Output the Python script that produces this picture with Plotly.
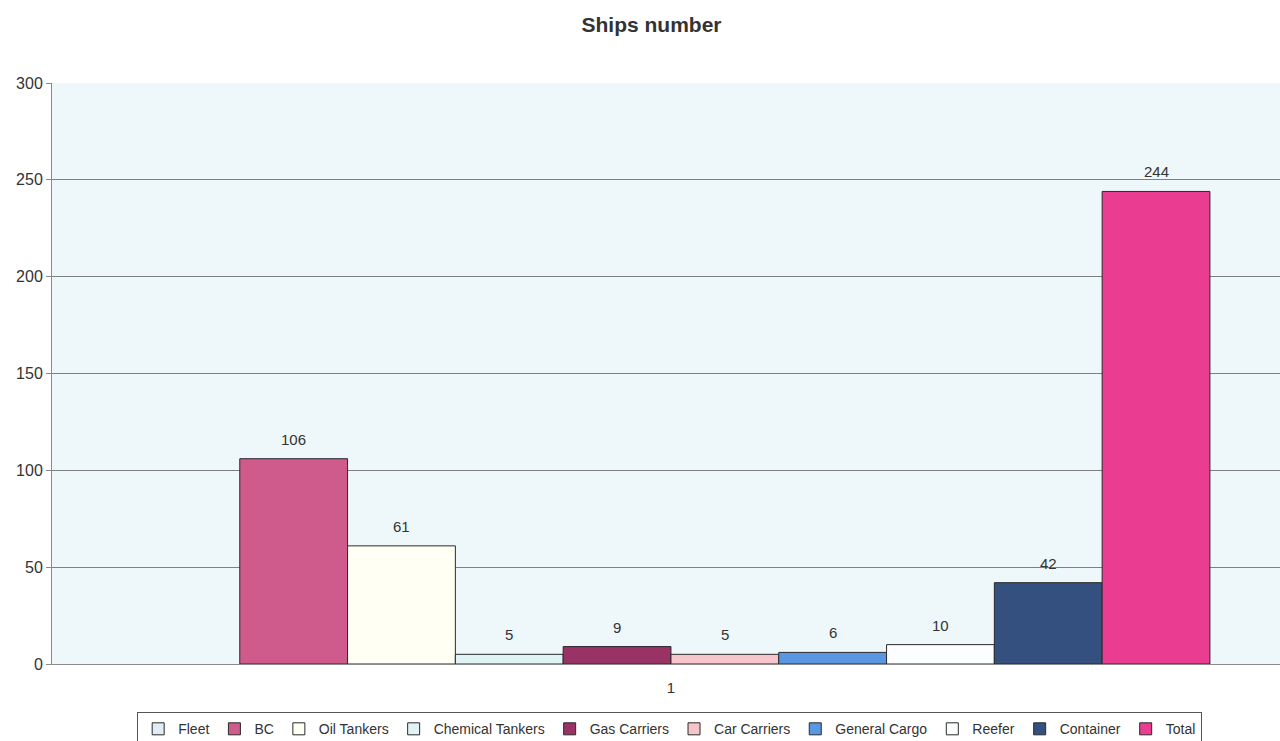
import plotly.graph_objects as go

# Fleet composition, one bar per ship type (Fleet has no value)
series_names = ["Fleet", "BC", "Oil Tankers", "Chemical Tankers", "Gas Carriers",
                "Car Carriers", "General Cargo", "Reefer", "Container", "Total"]
ship_counts = [None, 106, 61, 5, 9, 5, 6, 10, 42, 244]
category_labels = ["1"]
y_ticks = [0, 50, 100, 150, 200, 250, 300]

bar_colors = ["#e2ecf4", "#cf5a8c", "#fffff4", "#e0f3f5", "#993366",
              "#f6c4cb", "#5a97e2", "#fbfdff", "#34507e", "#ea3d92"]

FONT = "Liberation Sans, Arial"

fig = go.Figure()
for i, (name, val, col) in enumerate(zip(series_names, ship_counts, bar_colors)):
    fig.add_trace(go.Bar(
        x=[i], y=[val], name=name, width=1,
        marker=dict(color=col, line=dict(color="#2a2a2a", width=1)),
        hoverinfo="name+y",
    ))
    if val is not None:
        fig.add_annotation(x=i, y=val, text=str(val), showarrow=False,
                           yanchor="bottom", yshift=9,
                           font=dict(family=FONT, size=15, color="#333333"))

n = len(series_names)
fig.update_layout(
    width=1280, height=741,
    margin=dict(l=52, r=0, t=83, b=77, autoexpand=False),
    paper_bgcolor="#ffffff",
    plot_bgcolor="#eef7fa",
    barmode="overlay",
    title=dict(text="<b>Ships number</b>", x=0.509, xanchor="center", y=0.967, yanchor="middle",
               font=dict(family=FONT, size=21, color="#333333")),
    xaxis=dict(range=[-1.242, 10.15], tickvals=[(n - 1) / 2], ticktext=category_labels,
               showgrid=False, zeroline=False, showline=True, linecolor="#8a8a8a", linewidth=1,
               ticks="", ticklabelstandoff=10,
               tickfont=dict(family=FONT, size=15, color="#333333")),
    yaxis=dict(range=[0, 300], tickvals=y_ticks, showgrid=True, gridcolor="#808080", gridwidth=1,
               zeroline=False, showline=True, linecolor="#8a8a8a", linewidth=1,
               ticks="outside", ticklen=5, tickcolor="#8a8a8a",
               tickfont=dict(family=FONT, size=16, color="#333333")),
    legend=dict(orientation="h", x=0.503, xanchor="center", y=-0.083, yanchor="top",
                bgcolor="#ffffff", bordercolor="#555555", borderwidth=1,
                itemwidth=30, traceorder="normal",
                font=dict(family=FONT, size=14, color="#333333")),
    showlegend=True,
)

fig.write_html("out.html")
